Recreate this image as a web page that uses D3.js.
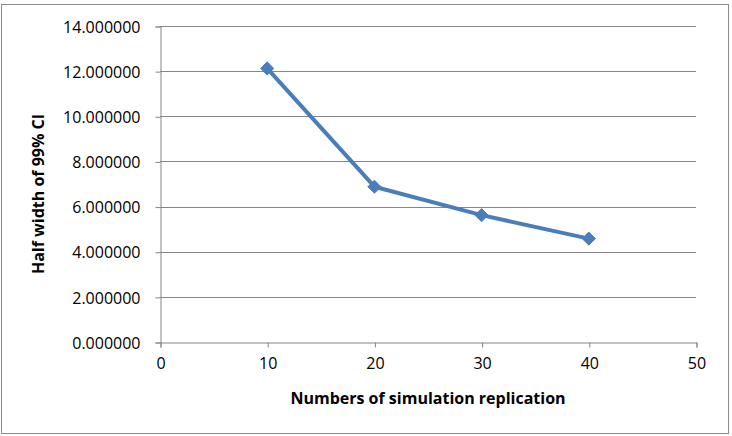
<!DOCTYPE html>
<html>
<head>
<meta charset="utf-8">
<script src="https://cdn.jsdelivr.net/npm/d3@7"></script>
<style>
  body { margin: 0; background: #fff; }
  text { font-family: "Open Sans", "Liberation Sans", sans-serif; fill: #000; }
  .tick-label { font-size: 16px; }
  .axis-title { font-size: 16px; font-weight: bold; }
</style>
</head>
<body>
<div id="chart"></div>
<script>
//Data
var replications = [10, 20, 30, 40];
var halfWidths = [12.12, 6.88, 5.62, 4.58];
var xTicks = [0, 10, 20, 30, 40, 50];
var yTicks = [0, 2, 4, 6, 8, 10, 12, 14];

var width = 732, height = 436;
var plot = {left: 160, right: 696, top: 26, bottom: 342};

var svg = d3.select("#chart").append("svg")
	.attr("width", width)
	.attr("height", height);

//Outer chart border
svg.append("rect")
	.attr("x", 1.5).attr("y", 4.5)
	.attr("width", 727).attr("height", 429)
	.attr("fill", "#fff")
	.attr("stroke", "#8c8c8c")
	.attr("stroke-width", 1);

var x = d3.scaleLinear().domain([0, 50]).range([plot.left, plot.right]);
var y = d3.scaleLinear().domain([0, 14]).range([plot.bottom, plot.top]);

//Gridlines
svg.append("g")
	.selectAll("line")
	.data(yTicks.filter(function(d) { return d > 0; }))
	.enter().append("line")
	.attr("x1", plot.left).attr("x2", plot.right)
	.attr("y1", function(d) { return Math.round(y(d)) + 0.5; })
	.attr("y2", function(d) { return Math.round(y(d)) + 0.5; })
	.attr("stroke", "#868686")
	.attr("stroke-width", 1);

//Y axis
var yAxis = svg.append("g")
	.attr("transform", "translate(" + (plot.left + 0.5) + ",0.5)")
	.call(d3.axisLeft(y).tickValues(yTicks).tickSize(5).tickPadding(15)
		.tickFormat(function(d) { return d3.format(".6f")(d); }));

//X axis
var xAxis = svg.append("g")
	.attr("transform", "translate(0.5," + (plot.bottom + 0.5) + ")")
	.call(d3.axisBottom(x).tickValues(xTicks).tickSize(5).tickPadding(10)
		.tickFormat(d3.format("d")));

[xAxis, yAxis].forEach(function(ax) {
	ax.select(".domain").attr("stroke", "#868686");
	ax.selectAll(".tick line").attr("stroke", "#868686");
	ax.selectAll(".tick text")
		.attr("class", "tick-label")
		.attr("fill", "#000")
		.style("font-family", null)
		.style("font-size", null);
	ax.attr("font-family", null).attr("font-size", null);
});
yAxis.selectAll(".tick text").attr("dy", "0.36em");

//Axis titles
svg.append("text")
	.attr("class", "axis-title")
	.attr("x", (plot.left + plot.right) / 2 - 0)
	.attr("y", 404)
	.attr("text-anchor", "middle")
	.text("Numbers of simulation replication");

svg.append("text")
	.attr("class", "axis-title")
	.attr("transform", "translate(44," + ((plot.top + plot.bottom) / 2 + 10) + ") rotate(-90)")
	.attr("text-anchor", "middle")
	.text("Half width of 99% CI");

//Series line
var points = replications.map(function(d, i) { return {x: d, y: halfWidths[i]}; });

svg.append("path")
	.datum(points)
	.attr("fill", "none")
	.attr("stroke", "#4a7ebb")
	.attr("stroke-width", 4)
	.attr("stroke-linejoin", "round")
	.attr("d", d3.line()
		.x(function(d) { return x(d.x); })
		.y(function(d) { return y(d.y); }));

//Diamond markers
svg.append("g")
	.selectAll("path")
	.data(points)
	.enter().append("path")
	.attr("transform", function(d) { return "translate(" + x(d.x) + "," + y(d.y) + ")"; })
	.attr("d", d3.symbol().type(d3.symbolDiamond2).size(110))
	.attr("fill", "#4a7ebb")
	.attr("stroke", "#4a7ebb")
	.attr("stroke-width", 1);
</script>
</body>
</html>
